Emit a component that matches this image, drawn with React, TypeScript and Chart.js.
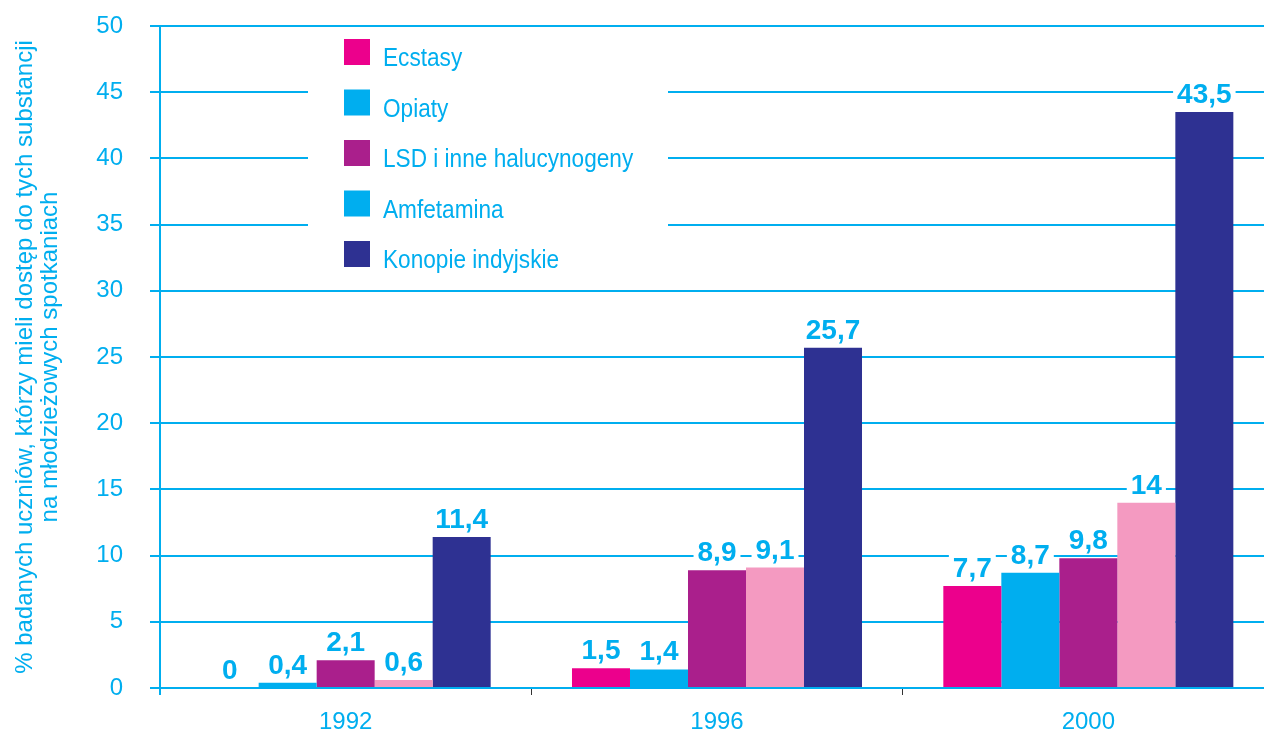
import React, { useEffect, useRef } from 'react';
import { Chart, registerables } from 'chart.js';

Chart.register(...registerables);

const years = ['1992', '1996', '2000'];
const seriesNames = ['Ecstasy', 'Opiaty', 'LSD i inne halucynogeny', 'Amfetamina', 'Konopie indyjskie'];
const ecstasy = [0, 1.5, 7.7];
const opiaty = [0.4, 1.4, 8.7];
const lsd = [2.1, 8.9, 9.8];
const amfetamina = [0.6, 9.1, 14];
const konopie = [11.4, 25.7, 43.5];
const seriesValues = [ecstasy, opiaty, lsd, amfetamina, konopie];
const barColors = ['#EC008C', '#00AEEF', '#AA1F8C', '#F49AC1', '#2E3192'];
const legendColors = ['#EC008C', '#00AEEF', '#AA1F8C', '#00AEEF', '#2E3192'];
const yTitle = ['% badanych uczniów, którzy mieli dostęp do tych substancji', 'na młodzieżowych spotkaniach'];
const yMin = 0;
const yMax = 50;
const yStep = 5;

const CYAN = '#00AEEF';
const REGULAR = '"Liberation Sans", Arial, sans-serif';

const legendPlugin = {
  id: 'customLegend',
  beforeDatasetsDraw(chart: any) {
    const ctx = chart.ctx;
    ctx.save();
    ctx.fillStyle = '#ffffff';
    ctx.fillRect(308, 30, 360, 256);
    ctx.font = `26px ${REGULAR}`;
    ctx.textBaseline = 'alphabetic';
    ctx.textAlign = 'left';
    seriesNames.forEach((name, i) => {
      const top = 39 + i * 50.5;
      ctx.fillStyle = legendColors[i];
      ctx.fillRect(344, top, 26, 26);
      ctx.fillStyle = CYAN;
      ctx.save();
      ctx.translate(383, top + 27);
      ctx.scale(0.87, 1);
      ctx.fillText(name, 0, 0);
      ctx.restore();
    });
    ctx.restore();
  },
};

const valueLabelPlugin = {
  id: 'valueLabels',
  afterDatasetsDraw(chart: any) {
    const ctx = chart.ctx;
    ctx.save();
    ctx.font = `bold 28px ${REGULAR}`;
    ctx.textAlign = 'center';
    ctx.textBaseline = 'alphabetic';
    chart.data.datasets.forEach((ds: any, di: number) => {
      const meta = chart.getDatasetMeta(di);
      meta.data.forEach((el: any, i: number) => {
        const v = ds.data[i];
        const text = String(v).replace('.', ',');
        const w = ctx.measureText(text).width;
        const base = el.y - 9;
        ctx.fillStyle = '#ffffff';
        ctx.fillRect(el.x - w / 2 - 4, base - 23, w + 8, 25);
        ctx.fillStyle = CYAN;
        ctx.fillText(text, el.x, base);
      });
    });
    ctx.restore();
  },
};

export default function App() {
  const canvasRef = useRef<HTMLCanvasElement | null>(null);

  useEffect(() => {
    document.body.style.margin = '0';
    document.documentElement.style.overflow = 'hidden';
    const canvas = canvasRef.current;
    if (!canvas) return;
    const chart = new Chart(canvas, {
      type: 'bar',
      data: {
        labels: years,
        datasets: seriesNames.map((name, i) => ({
          label: name,
          data: seriesValues[i],
          backgroundColor: barColors[i],
          borderWidth: 0,
          barPercentage: 1,
          categoryPercentage: 0.781,
        })),
      },
      options: {
        animation: false,
        responsive: false,
        maintainAspectRatio: false,
        devicePixelRatio: 1,
        layout: { padding: { left: 0, top: 26, right: 0, bottom: 0 } },
        plugins: {
          legend: { display: false },
          tooltip: { enabled: false },
        },
        scales: {
          x: {
            offset: true,
            grid: {
              offset: true,
              drawOnChartArea: false,
              drawTicks: true,
              tickLength: 7,
              color: (c: any) => (c.index === 0 ? CYAN : '#333333'),
              lineWidth: (c: any) => (c.index === 0 ? 2 : 1),
            },
            border: { display: true, color: CYAN, width: 2 },
            ticks: {
              color: CYAN,
              font: { family: REGULAR, size: 24 },
              padding: 13,
              maxRotation: 0,
            },
            afterFit: (scale: any) => {
              scale.height = 48;
              scale.paddingLeft = 0;
              scale.paddingRight = 0;
            },
          },
          y: {
            min: yMin,
            max: yMax,
            ticks: {
              stepSize: yStep,
              color: CYAN,
              font: { family: REGULAR, size: 24 },
              padding: 27,
            },
            grid: {
              color: CYAN,
              lineWidth: 2,
              tickLength: 10,
              drawTicks: true,
            },
            border: { display: true, color: CYAN, width: 2 },
            title: {
              display: true,
              text: yTitle,
              color: CYAN,
              font: { family: REGULAR, size: 24, lineHeight: 25 / 24 },
              padding: { top: 12.5, bottom: 0 },
            },
            afterFit: (scale: any) => {
              scale.width = 160;
              scale.paddingTop = 0;
              scale.paddingBottom = 0;
            },
          },
        },
      },
      plugins: [legendPlugin, valueLabelPlugin],
    });
    return () => {
      chart.destroy();
    };
  }, []);

  return (
    <div style={{ width: 1264, height: 736, overflow: 'hidden', position: 'relative', background: '#ffffff' }}>
      <canvas ref={canvasRef} width={1274} height={736} style={{ display: 'block', width: 1274, height: 736 }} />
    </div>
  );
}
